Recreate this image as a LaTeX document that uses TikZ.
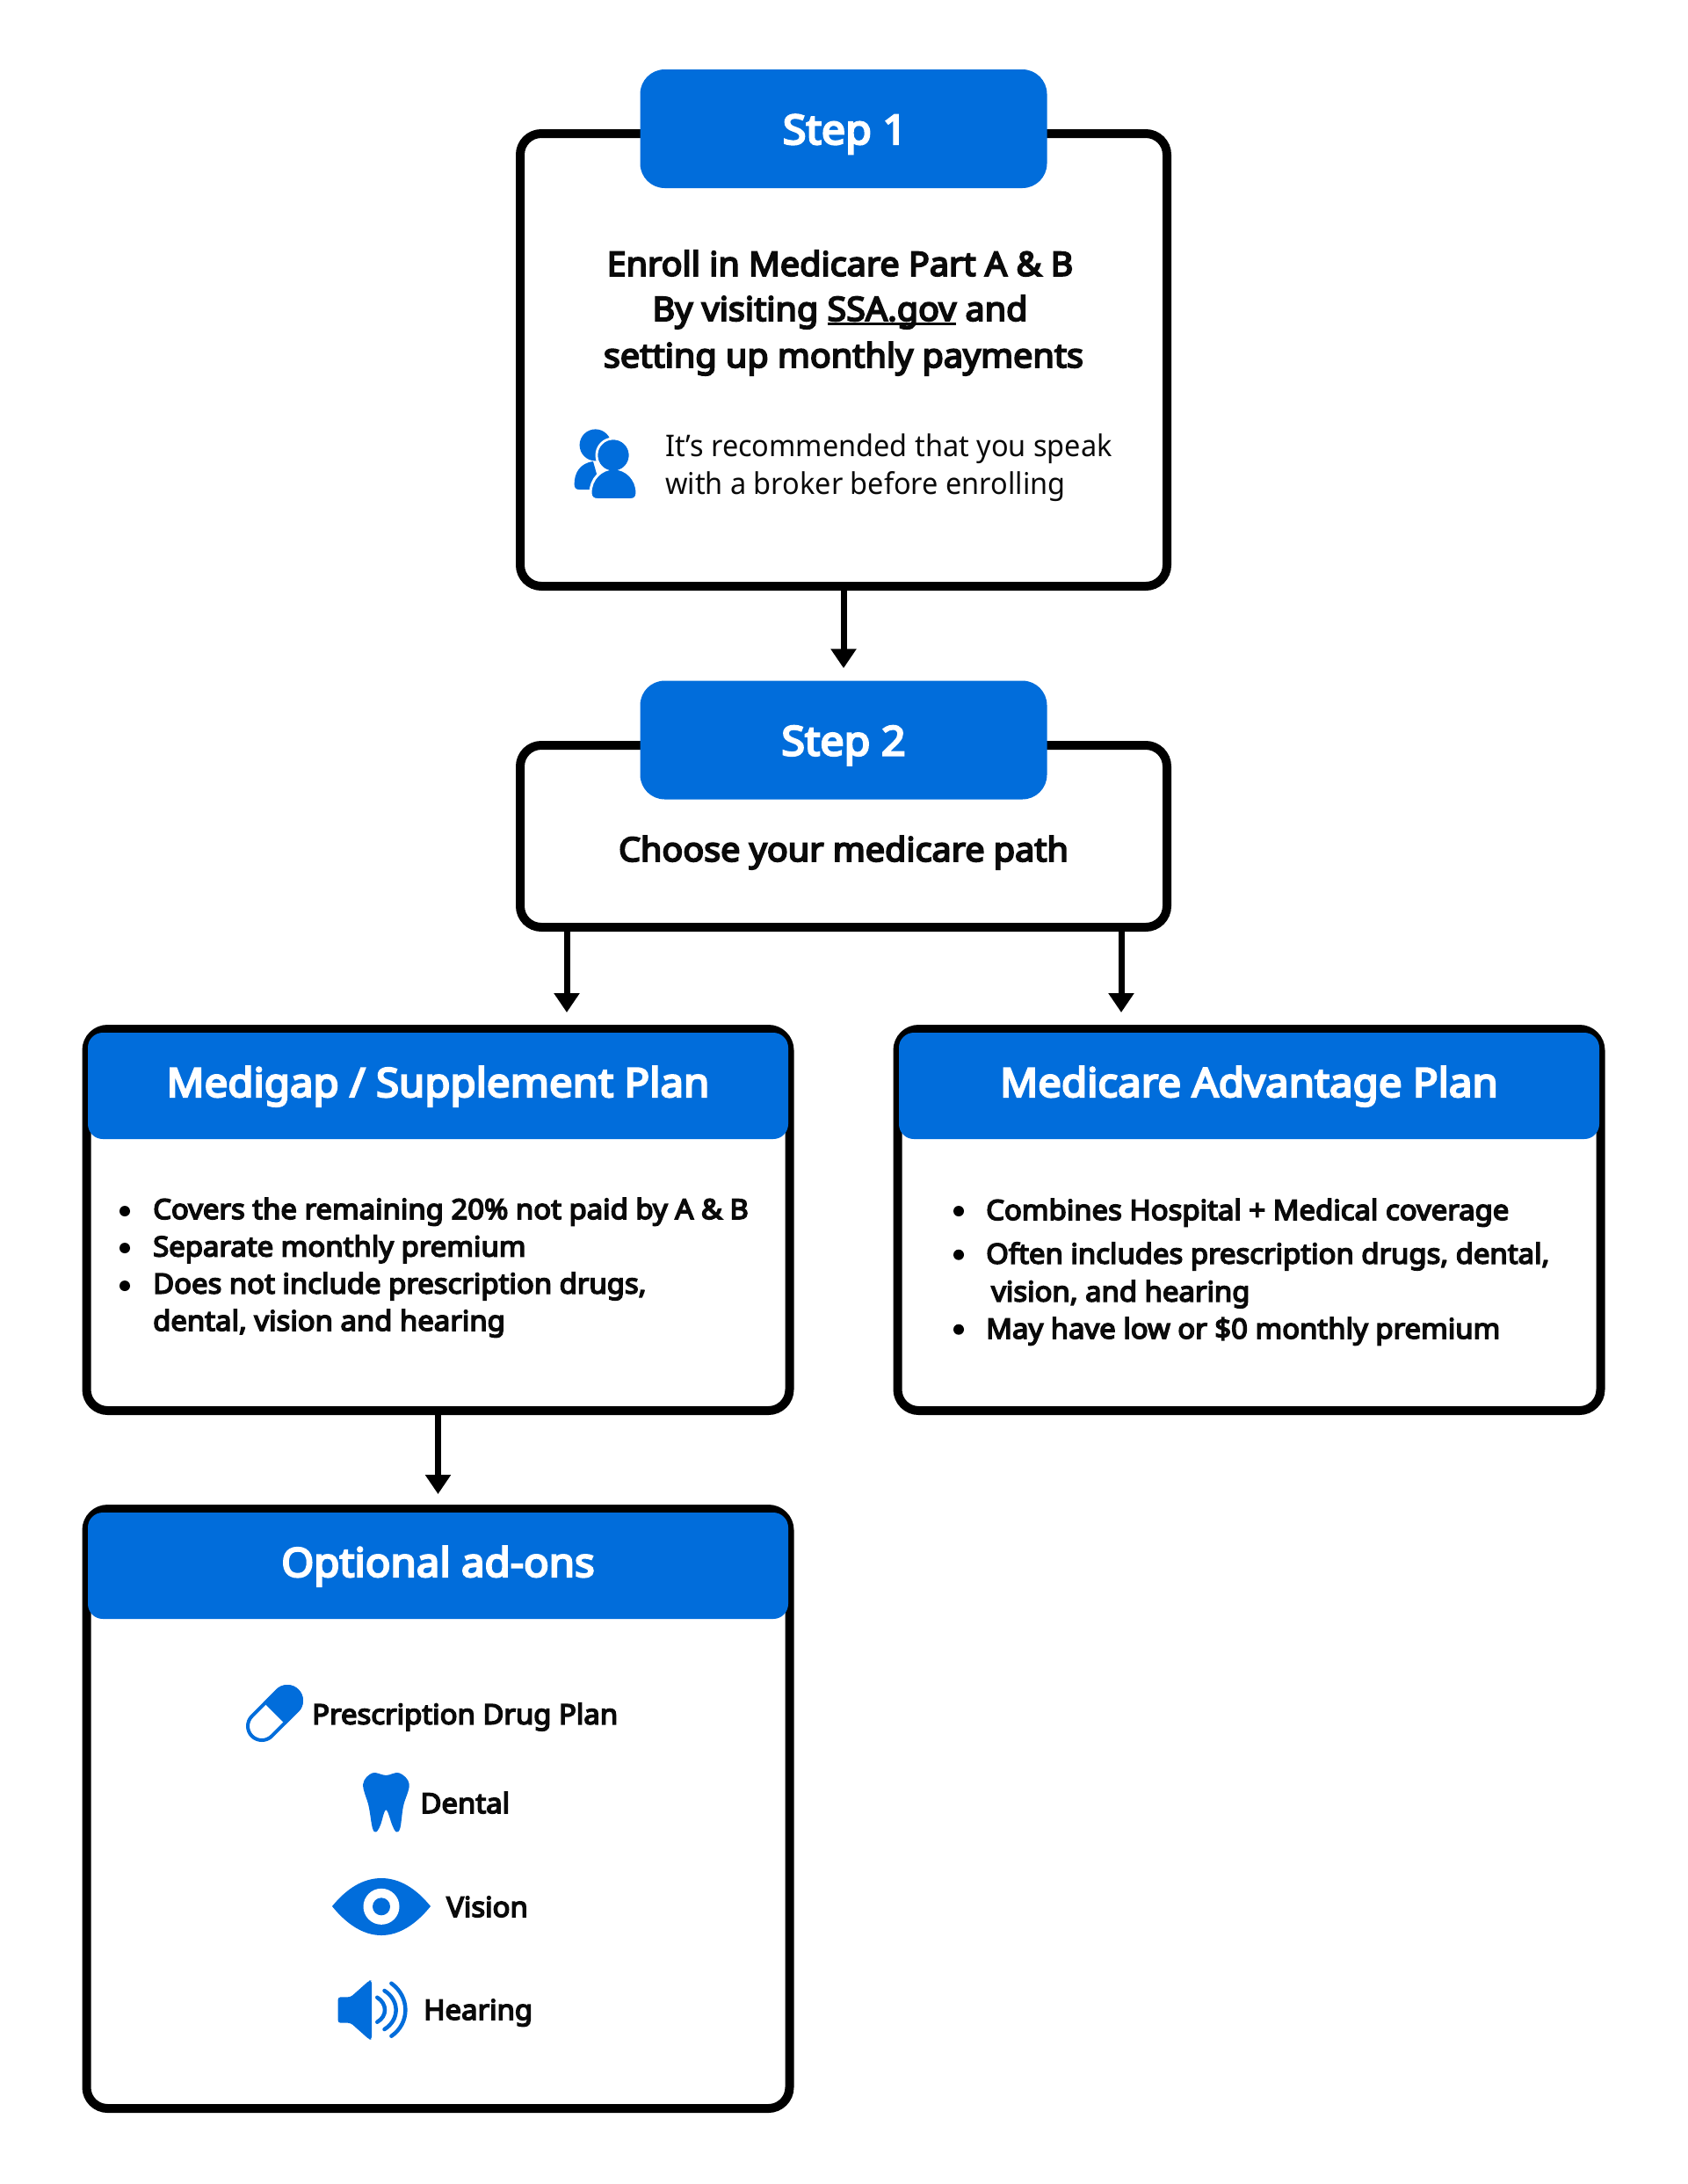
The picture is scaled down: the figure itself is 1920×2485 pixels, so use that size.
\documentclass[tikz,border=0pt]{standalone}
\usepackage{fontspec}
\setmainfont{Noto Sans}[FakeStretch=0.955, BoldFont={Noto Sans}, BoldFeatures={FakeStretch=1.04, FakeBold=5}]
\usepackage{xcolor}
\usepackage{tikz}
\usetikzlibrary{calc}
\usetikzlibrary{arrows.meta}
\definecolor{planblue}{HTML}{016DDB}
\definecolor{inkblack}{HTML}{0A0A0A}
\tikzset{
  frame/.style={draw=black, fill=white, line width=10pt, rounded corners=24pt, inner sep=0pt},
  tag/.style={fill=planblue, text=white, rounded corners=28pt, minimum width=463pt, minimum height=135pt,
    inner sep=0pt, text height=35pt, text depth=0pt, font=\fontsize{46.5}{54}\selectfont\bfseries},
  head/.style={fill=planblue, text=white, rounded corners=17pt, minimum width=797pt, minimum height=121pt,
    inner sep=0pt, text height=25pt, text depth=0pt, font=\fontsize{45.6}{54}\selectfont\bfseries},
  link/.style={draw=black, line width=7pt, shorten >=14pt, -{Triangle[width=28pt,length=22pt]}},
  txt/.style={anchor=base west, inner sep=0pt, text=inkblack},
  midtxt/.style={anchor=base, inner sep=0pt, text=inkblack, font=\fontsize{38}{46}\selectfont\bfseries},
  itemtxt/.style={txt, font=\fontsize{31.6}{40}\selectfont\bfseries},
  notetxt/.style={txt, font=\fontsize{34}{40}\selectfont},
  dot/.style={circle, fill=black, minimum size=12pt, inner sep=0pt},
  icon/.style={fill=planblue, draw=none}
}
\newcommand{\planbox}[5]{
\node[frame, minimum width=800pt, minimum height=#4pt] at (#2, #3) (#1) {};
\node[head] at ($(#1.north) + (0, 69.5)$) (#1head) {#5};
}
\newcommand{\linktext}[1]{\setbox0\hbox{#1}\rlap{\rule[-4.5pt]{\wd0}{2.5pt}}\box0\ }
\begin{document}
\begin{tikzpicture}[x=1pt, y=-1pt]
\useasboundingbox (0, 0) rectangle (1920, 2485);
\node[frame, minimum width=736pt, minimum height=515pt] at (960, 409.5) (step1) {};
\node[tag] at (960, 146.5) (tag1) {\hspace{3pt}Step 1};
\node[midtxt] at (956, 313.8) (enroll) {Enroll in Medicare Part A \& B};
\node[midtxt] at (956, 365)   (visit)  {By visiting \linktext{SSA.gov}and};
\node[midtxt] at (960, 418)   (setup)  {setting up monthly payments};
\node[notetxt] at (757, 519.5) (note1) {It’s recommended that you speak};
\node[notetxt] at (757, 562)   (note2) {with a broker before enrolling};
\fill[icon] (677.6, 506.4) circle (18);
\fill[icon] (653.6, 551) .. controls (653.6, 538) and (660, 527) .. (675, 525) -- (684, 557) -- (659, 557) .. controls (655.6, 557) and (653.6, 555) .. (653.6, 551) -- cycle;
\filldraw[icon, draw=white, line width=3pt] (698, 518) circle (19);
\filldraw[icon, draw=white, line width=3pt] (672, 561) .. controls (672, 545) and (684, 533) .. (698.6, 533) .. controls (713, 533) and (725, 545) .. (725, 561) .. controls (725, 566) and (722, 568.5) .. (718, 568.5) -- (680, 568.5) .. controls (675, 568.5) and (672, 566) .. (672, 561) -- cycle;
\fill[icon] (698, 518) circle (17.5);
\node[frame, minimum width=736pt, minimum height=207pt] at (960, 951.5) (step2) {};
\node[tag] at (960, 842) (tag2) {Step 2};
\node[midtxt] at (960, 980) (choose) {Choose your medicare path};
\planbox{medigap}{498.5}{1388}{434}{Medigap / Supplement Plan}
\planbox{advantage}{1421.5}{1388}{434}{Medicare Advantage Plan}
\planbox{addons}{498.5}{2058}{682}{Optional ad-ons}
\node[dot] at (142, 1378) (medb1) {};
\node[dot] at (142, 1420) (medb2) {};
\node[dot] at (142, 1463) (medb3) {};
\node[itemtxt] at (174, 1387)   (med1) {Covers the remaining 20\% not paid by A \& B};
\node[itemtxt] at (174, 1429.5) (med2) {Separate monthly premium};
\node[itemtxt] at (174, 1471.7) (med3) {Does not include prescription drugs,};
\node[itemtxt] at (174, 1514)   (med4) {dental, vision and hearing};
\node[dot] at (1091, 1378)   (advb1) {};
\node[dot] at (1091, 1427.7) (advb2) {};
\node[dot] at (1091, 1512.7) (advb3) {};
\node[itemtxt] at (1122, 1388)   (adv1) {Combines Hospital + Medical coverage};
\node[itemtxt] at (1122, 1437.7) (adv2) {Often includes prescription drugs, dental,};
\node[itemtxt] at (1128, 1480.7) (adv3) {vision, and hearing};
\node[itemtxt] at (1122, 1523)   (adv4) {May have low or \$0 monthly premium};
\node[itemtxt] at (355, 1961.7) (drug)    {Prescription Drug Plan};
\node[itemtxt] at (478.3, 2063) (dental)  {Dental};
\node[itemtxt] at (508, 2181)   (vision)  {Vision};
\node[itemtxt] at (482, 2298)   (hearing) {Hearing};
\begin{scope}[shift={(312.5, 1949.5)}, rotate=45]
\draw[draw=planblue, fill=white, line width=4pt, rounded corners=16pt] (-36.5, -16) rectangle (36.5, 16);
\clip (0, -20) rectangle (45, 20);
\fill[icon, rounded corners=18pt] (-38.5, -18) rectangle (38.5, 18);
\end{scope}
\fill[icon] plot[smooth cycle, tension=0.6] coordinates {(439.3, 2020) (423.9, 2017.3) (413.2, 2030) (419.6, 2055) (423.9, 2080) (428.2, 2084.3) (432.9, 2076.7) (439.3, 2059.3) (446.4, 2076.7) (450.7, 2084.3) (455.4, 2080) (459, 2055) (465.7, 2030) (454.3, 2017.3)};
\fill[icon] (378, 2169) .. controls (395, 2148) and (414, 2137) .. (434, 2137) .. controls (454, 2137) and (473, 2148) .. (490, 2169) .. controls (473, 2190) and (454, 2202) .. (434, 2202) .. controls (414, 2202) and (395, 2190) .. (378, 2169) -- cycle;
\fill[white] (434, 2169.3) circle (20.5);
\fill[icon] (434, 2169.3) circle (10);
\fill[icon, rounded corners=3pt] (384.6, 2272.3) -- (399, 2272.3) -- (420.4, 2253.3) -- (423, 2253.3) -- (423, 2320.7) -- (420.4, 2320.7) -- (399, 2301.7) -- (384.6, 2301.7) -- cycle;
\draw[planblue, line width=4.5pt, line cap=round] (429.3, 2272.7) .. controls (440.9, 2280) and (440.9, 2294) .. (429.3, 2300.7);
\draw[planblue, line width=4.5pt, line cap=round] (437.5, 2265) .. controls (455, 2276) and (455, 2298) .. (437.5, 2309);
\draw[planblue, line width=4.5pt, line cap=round] (445.4, 2256.7) .. controls (466.7, 2272) and (466.7, 2302) .. (445.4, 2316.7);
\coordinate (leftdrop) at (645, 0);
\coordinate (rightdrop) at (1276, 0);
\draw[link] (step1.south) -- (tag2.north);
\draw[link] (leftdrop |- step2.south) -- (leftdrop |- medigap.north);
\draw[link] (rightdrop |- step2.south) -- (rightdrop |- advantage.north);
\draw[link, shorten >=12pt] (medigap.south) -- (addons.north);
\end{tikzpicture}
\end{document}
